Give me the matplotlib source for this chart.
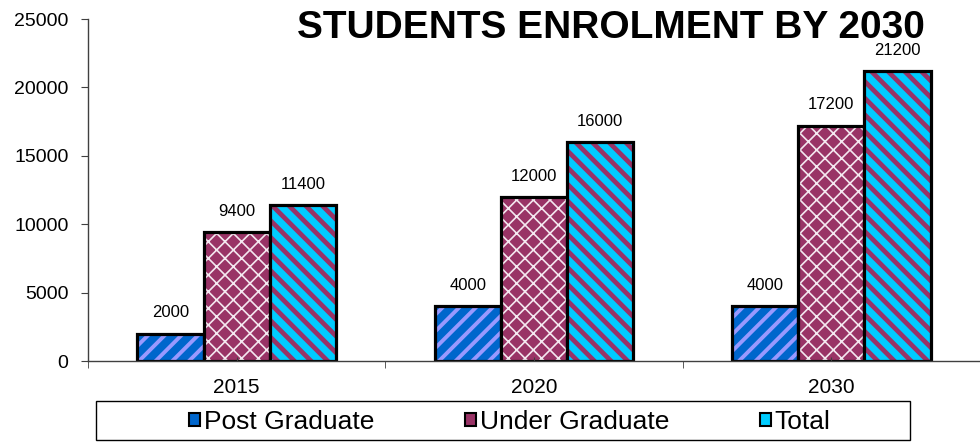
import matplotlib
matplotlib.use("Agg")
import matplotlib.pyplot as plt
from matplotlib.patches import Rectangle
import numpy as np

years = ["2015", "2020", "2030"]
post_graduate = [2000, 4000, 4000]
under_graduate = [9400, 12000, 17200]
total = [11400, 16000, 21200]

series_names = ["Post Graduate", "Under Graduate", "Total"]
series_values = [post_graduate, under_graduate, total]
face_colors = ["#0066CC", "#993366", "#00CCFF"]
hatch_colors = ["#9999FF", "#F4E8F0", "#993366"]
hatches = ["//", "xx", "\\\\"]
hatch_widths = [2.8, 1.2, 3.4]

plt.rcParams["font.family"] = ["Liberation Sans", "DejaVu Sans"]

fig = plt.figure(figsize=(9.8, 4.44), dpi=100)
ax = fig.add_axes([88 / 980, 83 / 444, 892 / 980, 342 / 444])

x = np.arange(len(years))
width = 0.223
offsets = [-width, 0, width]

for values, fc, hc, hatch, hw, off in zip(series_values, face_colors, hatch_colors,
                                          hatches, hatch_widths, offsets):
    plt.rcParams["hatch.linewidth"] = hw
    bars = ax.bar(x + off, values, width, color=fc, edgecolor=hc, hatch=hatch, linewidth=0)
    for b in bars:
        if hasattr(b, "set_hatch_linewidth"):
            b.set_hatch_linewidth(hw)
    ax.bar(x + off, values, width, fill=False, edgecolor="black", linewidth=2.3)
    for xi, v in zip(x + off, values):
        ax.annotate(str(v), (xi, v), xytext=(0, 15), textcoords="offset points",
                    ha="center", va="center", fontsize=12)

ax.set_xlim(-0.5, 2.47)
ax.set_ylim(0, 25000)
ax.set_yticks(np.arange(0, 25001, 5000))
ax.set_xticks(x)
ax.set_xticklabels(years)
ax.set_xticks([-0.5, 0.5, 1.5, 2.5], minor=True)
ax.tick_params(axis="x", which="major", direction="in", length=3, labelsize=15, pad=12,
               color="#404040")
ax.tick_params(axis="x", which="minor", direction="out", length=5, color="#404040")
ax.tick_params(axis="y", direction="out", length=5, labelsize=14, pad=9, color="#404040")

for side in ["top", "right"]:
    ax.spines[side].set_visible(False)
for side in ["left", "bottom"]:
    ax.spines[side].set_color("#404040")
    ax.spines[side].set_linewidth(1)

fig.text(611 / 980, 1 - 28 / 444, "STUDENTS ENROLMENT BY 2030", ha="center", va="center",
         fontsize=28, fontweight="bold")

# legend: frame drawn by hand so it can be wider than its content
fig.patches.append(Rectangle((96 / 980, 4 / 444), 814 / 980, 39 / 444,
                             transform=fig.transFigure, fill=False,
                             edgecolor="black", linewidth=1))
handles = [Rectangle((0, 0), 1, 1, facecolor=fc, edgecolor="black", linewidth=1.5)
           for fc in face_colors]
fig.legend(handles, series_names, loc="center", bbox_to_anchor=(510 / 980, 22 / 444),
           ncol=3, frameon=False, fontsize=19, handlelength=0.42, handleheight=0.42,
           handletextpad=0.15, columnspacing=3.42, borderaxespad=0)

fig.savefig("out.png", dpi=100)
